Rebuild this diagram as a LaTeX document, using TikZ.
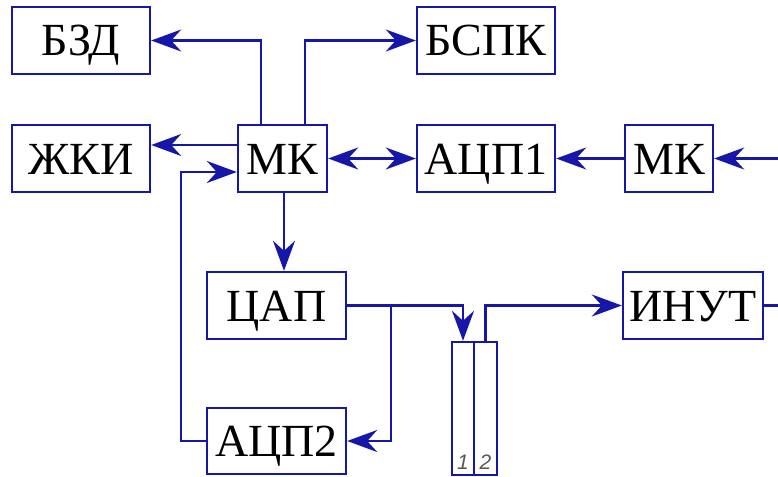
\documentclass[tikz,border=0pt]{standalone}
\usepackage{fontspec}
\setmainfont{Liberation Serif}
\newfontfamily\digitfont{Liberation Sans}
\usetikzlibrary{arrows.meta}
\definecolor{lineblue}{RGB}{22,22,168}
\tikzset{
  blk/.style={draw=lineblue, line width=2.4pt, inner sep=0pt, minimum height=67pt,
    font=\fontsize{46}{52}\selectfont, text=black, text height=31pt, text depth=0pt},
  col/.style={draw=lineblue, line width=2.4pt, inner sep=0pt, minimum height=133pt},
  conn/.style={draw=lineblue, line width=2.4pt},
  tip/.tip={Stealth[length=30pt, width=22pt, inset=10pt]},
  arr/.style={conn, -tip},
  barr/.style={conn, tip-tip},
  numlbl/.style={font=\digitfont\itshape\fontsize{21}{23}\selectfont, text=black!65, inner sep=0pt}
}
\begin{document}
\begin{tikzpicture}[x=1pt, y=-1pt]
\useasboundingbox (0,0) rectangle (778,476);
% blocks
\node[blk, minimum width=138pt] (bzd)  at (81,40.5)   {БЗД};
\node[blk, minimum width=138pt] (bspk) at (486,40.5)  {БСПК};
\node[blk, minimum width=138pt] (zhki) at (81,158.5)  {ЖКИ};
\node[blk, minimum width=89pt]  (mk)   at (282.5,158.5) {МК};
\node[blk, minimum width=138pt] (adc1) at (486,158.5) {АЦП1};
\node[blk, minimum width=88pt]  (mk2)  at (669,158.5) {МК};
\node[blk, minimum width=139pt] (cap)  at (276.5,305.5) {ЦАП};
\node[blk, minimum width=140pt] (inut) at (693,305.5) {ИНУТ};
\node[blk, minimum width=139pt, minimum height=66pt] (adc2) at (276.5,441) {АЦП2};
\node[col, minimum width=22pt] (col1) at (463,408.5) {};
\node[col, minimum width=23pt] (col2) at (485.5,408.5) {};
\node[numlbl] (n1) at (463,462) {1};
\node[numlbl] (n2) at (485.5,462) {2};
% free ends and junctions
\coordinate (inA) at (778,158.5);
\coordinate (outB) at (778,305.5);
\coordinate (jn) at (391,305.5);
\coordinate (fb) at (181,172);
% connectors
\draw[arr] (mk.north -| 261,0) |- (bzd.east);
\draw[arr] (mk.north -| 305,0) |- (bspk.west);
\draw[arr] (mk.west |- 0,145) -- (zhki.east |- 0,145);
\draw[arr] (adc2.west) -| (fb) -- (mk.west |- fb);
\draw[barr] (mk.east) -- (adc1.west);
\draw[arr] (mk2.west) -- (adc1.east);
\draw[arr] (inA) -- (mk2.east);
\draw[arr] (mk.south -| 284,0) -- (cap.north -| 284,0);
\draw[arr] (cap.east) -| (col1.north);
\draw[arr] (jn) |- (adc2.east);
\draw[arr] (col2.north) |- (inut.west);
\draw[conn] (inut.east) -- (outB);
\end{tikzpicture}
\end{document}
